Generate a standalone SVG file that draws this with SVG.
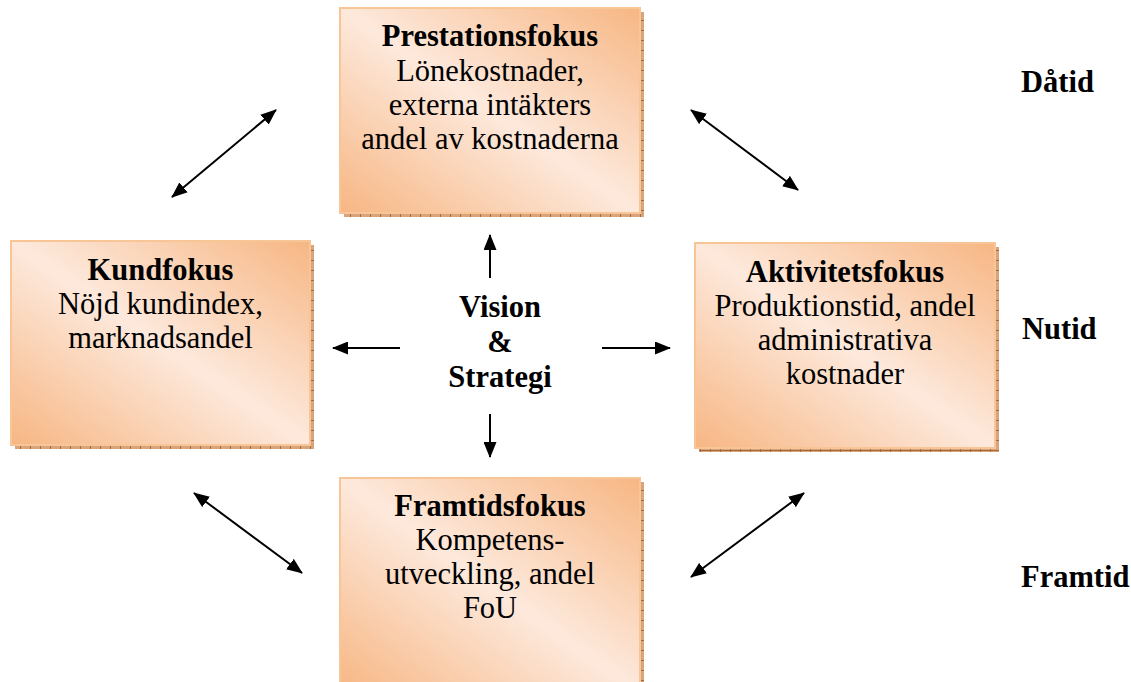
<svg xmlns="http://www.w3.org/2000/svg" width="1131" height="682" viewBox="0 0 1131 682">
  <style>
    text { font-family: "Liberation Serif", "Times New Roman", serif; font-size: 30.5px; fill: #000; }
    .c { text-anchor: middle; }
    .b { font-weight: bold; }
    .box { fill: url(#peach); stroke: #f8c597; stroke-width: 2; }
    .shadow { fill: url(#hatch); }
    .link { stroke: #000; stroke-width: 2; fill: none; }
    .two { marker-start: url(#head); marker-end: url(#head); }
    .one { marker-end: url(#head); }
  </style>
  <defs>
    <linearGradient id="peach" x1="1" y1="0" x2="0" y2="1">
      <stop offset="0" stop-color="#f7b683"/>
      <stop offset="0.5" stop-color="#fde9dc"/>
      <stop offset="1" stop-color="#f7b683"/>
    </linearGradient>
    <pattern id="hatch" width="10" height="10" patternUnits="userSpaceOnUse">
      <rect width="10" height="10" fill="#d7a47c"/>
      <rect x="0" width="1" height="10" fill="#a8693b"/>
      <rect y="0" width="10" height="1" fill="#a8693b"/>
    </pattern>
    <marker id="head" viewBox="0 0 16 13" refX="15" refY="6.5" markerWidth="16" markerHeight="13" markerUnits="userSpaceOnUse" orient="auto-start-reverse">
      <path d="M0,0 L16,6.5 L0,13 Z" fill="#000"/>
    </marker>
  </defs>

  <!-- Prestationsfokus -->
  <g id="prestationsfokus">
    <rect class="shadow" x="344" y="12" width="300" height="205"/>
    <rect class="box" x="340" y="8" width="300" height="205"/>
    <text class="c b" x="490" y="46">Prestationsfokus</text>
    <text class="c" x="490" y="81">Lönekostnader,</text>
    <text class="c" x="490" y="115">externa intäkters</text>
    <text class="c" x="490" y="149">andel av kostnaderna</text>
  </g>

  <!-- Kundfokus -->
  <g id="kundfokus">
    <rect class="shadow" x="15" y="245" width="299" height="204"/>
    <rect class="box" x="11" y="241" width="299" height="204"/>
    <text class="c b" x="160.5" y="280">Kundfokus</text>
    <text class="c" x="160.5" y="314">Nöjd kundindex,</text>
    <text class="c" x="160.5" y="348">marknadsandel</text>
  </g>

  <!-- Aktivitetsfokus -->
  <g id="aktivitetsfokus">
    <rect class="shadow" x="699" y="247" width="300" height="205"/>
    <rect class="box" x="695" y="243" width="300" height="205"/>
    <text class="c b" x="845" y="282">Aktivitetsfokus</text>
    <text class="c" x="845" y="316">Produktionstid, andel</text>
    <text class="c" x="845" y="350">administrativa</text>
    <text class="c" x="845" y="384">kostnader</text>
  </g>

  <!-- Framtidsfokus -->
  <g id="framtidsfokus">
    <rect class="shadow" x="344" y="482" width="300" height="215"/>
    <rect class="box" x="340" y="478" width="300" height="215"/>
    <text class="c b" x="490" y="516">Framtidsfokus</text>
    <text class="c" x="490" y="550">Kompetens-</text>
    <text class="c" x="490" y="584">utveckling, andel</text>
    <text class="c" x="490" y="618">FoU</text>
  </g>

  <!-- Vision & Strategi -->
  <g id="vision">
    <text class="c b" x="500" y="317">Vision</text>
    <text class="c b" x="500" y="352">&amp;</text>
    <text class="c b" x="500" y="387">Strategi</text>
  </g>

  <!-- Time labels -->
  <g id="datid"><text class="b" x="1021" y="92">Dåtid</text></g>
  <g id="nutid"><text class="b" x="1022" y="339">Nutid</text></g>
  <g id="framtid"><text class="b" x="1021" y="587">Framtid</text></g>

  <!-- Connectors -->
  <g id="connectors">
    <line class="link one" x1="490" y1="278" x2="490" y2="235"/>
    <line class="link one" x1="400" y1="348" x2="333" y2="348"/>
    <line class="link one" x1="602" y1="348" x2="670" y2="348"/>
    <line class="link one" x1="490" y1="414" x2="490" y2="457"/>
    <line class="link two" x1="172" y1="197" x2="276" y2="110"/>
    <line class="link two" x1="691" y1="110" x2="798" y2="190"/>
    <line class="link two" x1="194" y1="493" x2="302" y2="573"/>
    <line class="link two" x1="691" y1="577" x2="804" y2="493"/>
  </g>
</svg>
